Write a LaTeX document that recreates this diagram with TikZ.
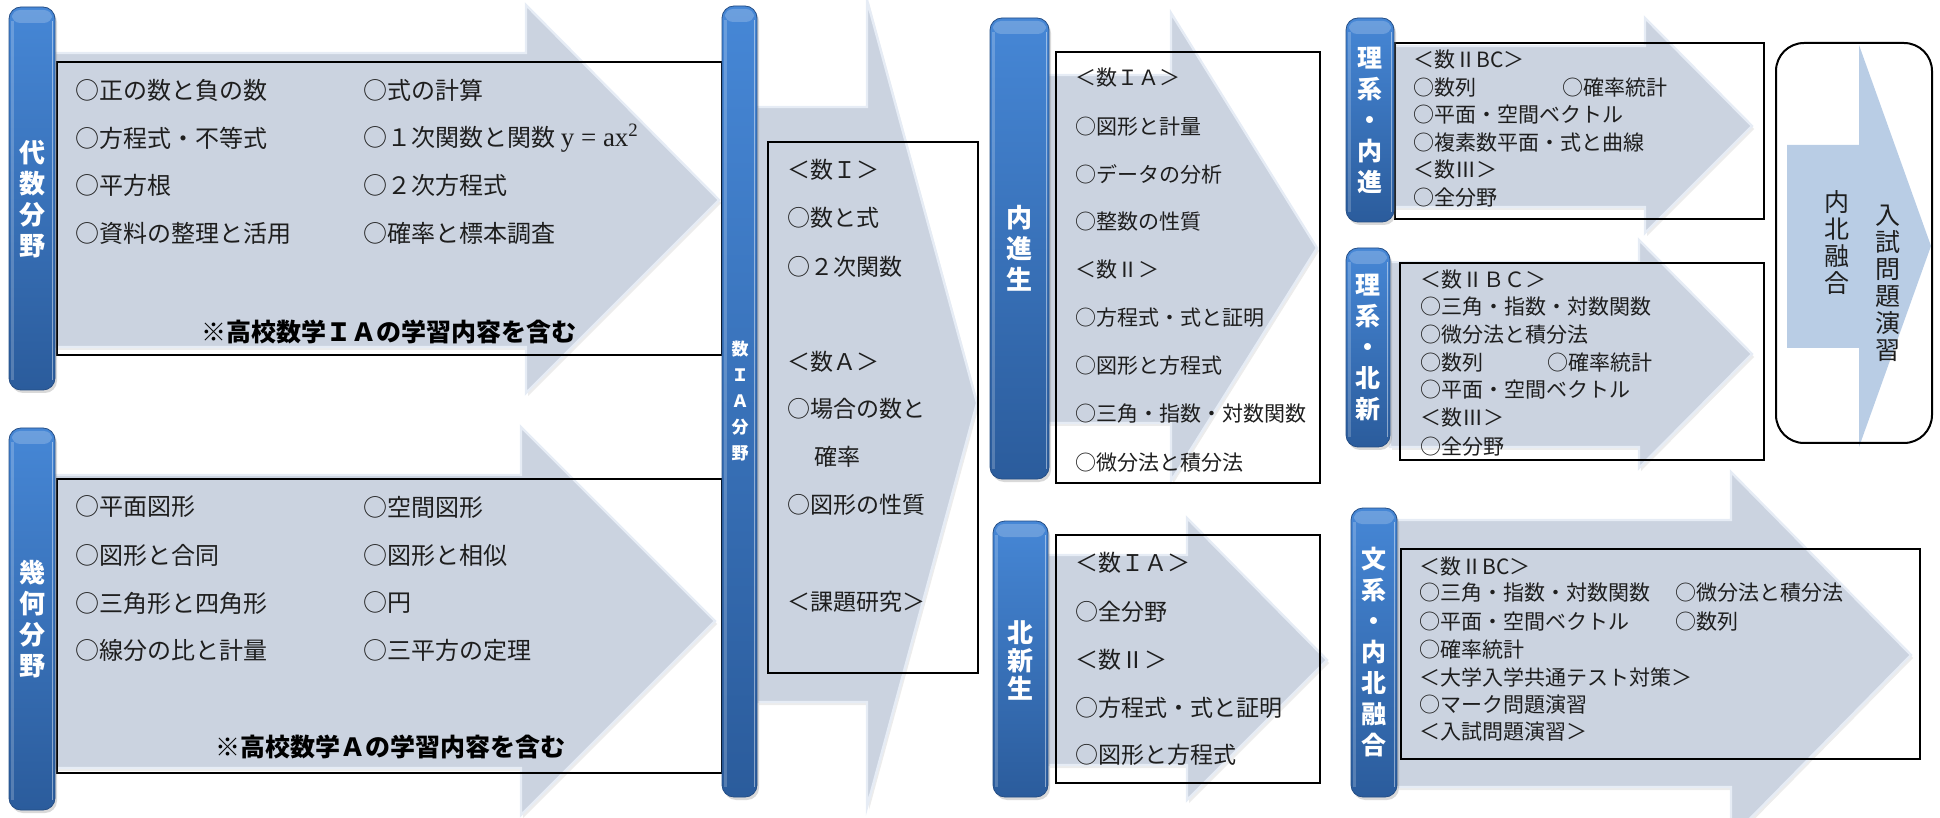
\documentclass[tikz,border=0pt]{standalone}
\usepackage{fontspec}
\setmainfont{Noto Sans CJK JP}
\newfontfamily\latserif{Liberation Serif}
\usetikzlibrary{shadows}
\definecolor{arrowfill}{HTML}{CBD3E0}
\definecolor{arrowedge}{HTML}{E6ECF5}
\definecolor{barTop}{HTML}{4687D6}
\definecolor{barBot}{HTML}{2B5C9C}
\definecolor{bigarrow}{HTML}{B9CDE5}
\definecolor{txt}{HTML}{1E1E1E}
\begin{document}
\begin{tikzpicture}[x=0.5pt,y=-0.5pt,
  flow/.style={fill=arrowfill, draw=arrowedge, line width=1.2pt, line join=miter,
    drop shadow={shadow xshift=1pt, shadow yshift=-1.5pt, opacity=0.15}},
  frame/.style={draw=black, line width=1pt},
  bar/.style={rounded corners=6pt, top color=barTop, bottom color=barBot,
    draw=barBot!85!black, line width=0.4pt,
    drop shadow={shadow xshift=1pt, shadow yshift=-1.5pt, opacity=0.3}},
  barlabel/.style={text=white, font=\fontsize{13}{15.5}\selectfont\bfseries, align=center, inner sep=0},
  itemL/.style={anchor=west, inner sep=0, text=txt, font=\fontsize{12}{14}\selectfont},
  itemM/.style={anchor=west, inner sep=0, text=txt, font=\fontsize{11.5}{14}\selectfont},
  itemS/.style={anchor=west, inner sep=0, text=txt, font=\fontsize{10.5}{12}\selectfont},
  note/.style={inner sep=0, text=black, font=\fontsize{12.5}{14}\selectfont\bfseries},
  vtext/.style={inner sep=0, text=txt, align=center, font=\fontsize{12.5}{13.5}\selectfont},
]
\newcommand\colbar[4]{%
  \path[bar] (#1,#2) rectangle (#3,#4);
  \fill[white,opacity=0.2,rounded corners=4pt] (#1+3,#2+3) rectangle (#3-3,#2+16);
  \draw[white,opacity=0.45,line width=0.8pt] (#3-2.5,#2+14) -- (#3-2.5,#4-10);
  \draw[white,opacity=0.2,line width=1.5pt] (#1+3,#2+14) -- (#1+3,#4-10);
}
\useasboundingbox (0,0) rectangle (1940,818);

% ---------- arrows ----------
\path[flow] (55,53) -- (526,53) -- (526,5) -- (719,200) -- (526,393) -- (526,347) -- (55,347) -- cycle;
\path[flow] (55,475) -- (521,475) -- (521,427) -- (715,621) -- (521,815) -- (521,768) -- (55,768) -- cycle;
\path[flow] (757,107) -- (867,107) -- (867,0) -- (977,403) -- (867,807) -- (867,702) -- (757,702) -- cycle;
\path[flow] (1048,75) -- (1171,75) -- (1171,13) -- (1317,248) -- (1171,481) -- (1171,423) -- (1048,423) -- cycle;
\path[flow] (1048,555) -- (1187,555) -- (1187,518) -- (1327,660) -- (1187,800) -- (1187,765) -- (1048,765) -- cycle;
\path[flow] (1394,46) -- (1645,46) -- (1645,18) -- (1752,126) -- (1645,233) -- (1645,207) -- (1394,207) -- cycle;
\path[flow] (1390,262) -- (1639,262) -- (1639,240) -- (1752,354) -- (1639,468) -- (1639,447) -- (1390,447) -- cycle;
\path[flow] (1397,520) -- (1731,520) -- (1731,472) -- (1911,655) -- (1731,838) -- (1731,787) -- (1397,787) -- cycle;
\fill[bigarrow] (1787,145) -- (1859,145) -- (1859,45) -- (1931,246) -- (1859,447) -- (1859,348) -- (1787,348) -- cycle;

% ---------- frames ----------
\draw[frame] (57,62) rectangle (722,355);
\draw[frame] (57,479) rectangle (722,773);
\draw[frame] (768,142) rectangle (978,673);
\draw[frame] (1056,52) rectangle (1320,483);
\draw[frame] (1056,535) rectangle (1320,783);
\draw[frame] (1395,43) rectangle (1764,219);
\draw[frame] (1400,263) rectangle (1764,460);
\draw[frame] (1401,549) rectangle (1920,759);
\draw[frame, rounded corners=14pt] (1776,43) rectangle (1932,443);

% ---------- bars ----------
\colbar{9}{7}{55}{390}
\colbar{9}{428}{55}{810}
\colbar{722}{6}{757}{797}
\colbar{990}{18}{1049}{479}
\colbar{993}{521}{1048}{797}
\colbar{1346}{18}{1394}{222}
\colbar{1346}{248}{1390}{447}
\colbar{1351}{508}{1397}{797}

% ---------- bar labels ----------
\node[barlabel] (L1) at (32,199) {代\\数\\分\\野};
\node[barlabel] (L2) at (32,619) {幾\\何\\分\\野};
\node[barlabel, font=\fontsize{8.5}{13}\selectfont\bfseries] (L3) at (740,401) {数\\Ｉ\\Ａ\\分\\野};
\node[barlabel] (L4) at (1019,248) {内\\進\\生};
\node[barlabel, font=\fontsize{13}{14}\selectfont\bfseries] (L5) at (1020,660) {北\\新\\生};
\node[barlabel, font=\fontsize{12.5}{15.5}\selectfont\bfseries] (L6) at (1370,120) {理\\系\\・\\内\\進};
\node[barlabel, font=\fontsize{12.5}{15.5}\selectfont\bfseries] (L7) at (1368,348) {理\\系\\・\\北\\新};
\node[barlabel, font=\fontsize{12.5}{15.5}\selectfont\bfseries] (L8) at (1374,652) {文\\系\\・\\内\\北\\融\\合};

% ---------- algebra box ----------
\node[itemL] (a1) at (75,90) {○正の数と負の数};
\node[itemL] (a2) at (75,138) {○方程式・不等式};
\node[itemL] (a3) at (75,185) {○平方根};
\node[itemL] (a4) at (75,233) {○資料の整理と活用};
\node[itemL] (a5) at (363,90) {○式の計算};
\node[itemL] (a6) at (363,138) {○１次関数と関数\ {\latserif\fontsize{13.5}{14}\selectfont y = ax\textsuperscript{2}}};
\node[itemL] (a7) at (363,185) {○２次方程式};
\node[itemL] (a8) at (363,233) {○確率と標本調査};
\node[note] (a9) at (389,332) {※高校数学ＩＡの学習内容を含む};

% ---------- geometry box ----------
\node[itemL] (g1) at (75,507) {○平面図形};
\node[itemL] (g2) at (75,555) {○図形と合同};
\node[itemL] (g3) at (75,603) {○三角形と四角形};
\node[itemL] (g4) at (75,650) {○線分の比と計量};
\node[itemL] (g5) at (363,507) {○空間図形};
\node[itemL] (g6) at (363,555) {○図形と相似};
\node[itemL] (g7) at (363,603) {○円};
\node[itemL] (g8) at (363,650) {○三平方の定理};
\node[note] (g9) at (390,747) {※高校数学Ａの学習内容を含む};

% ---------- middle box ----------
\node[itemM] (m1) at (787,170) {＜数Ｉ＞};
\node[itemM] (m2) at (787,218) {○数と式};
\node[itemM] (m3) at (787,267) {○２次関数};
\node[itemM] (m4) at (787,362) {＜数Ａ＞};
\node[itemM] (m5) at (787,409) {○場合の数と};
\node[itemM] (m6) at (814,457) {確率};
\node[itemM] (m7) at (787,505) {○図形の性質};
\node[itemM] (m8) at (787,602) {＜課題研究＞};

% ---------- naishin box ----------
\node[itemS] (n1) at (1075,78) {＜数ＩＡ＞};
\node[itemS] (n2) at (1075,127) {○図形と計量};
\node[itemS] (n3) at (1075,174) {○データの分析};
\node[itemS] (n4) at (1075,222) {○整数の性質};
\node[itemS] (n5) at (1075,270) {＜数Ⅱ＞};
\node[itemS] (n6) at (1075,318) {○方程式・式と証明};
\node[itemS] (n7) at (1075,366) {○図形と方程式};
\node[itemS] (n8) at (1075,414) {○三角・指数・対数関数};
\node[itemS] (n9) at (1075,463) {○微分法と積分法};

% ---------- hokushin box ----------
\node[itemM] (k1) at (1075,563) {＜数ＩＡ＞};
\node[itemM] (k2) at (1075,612) {○全分野};
\node[itemM] (k3) at (1075,660) {＜数Ⅱ＞};
\node[itemM] (k4) at (1075,708) {○方程式・式と証明};
\node[itemM] (k5) at (1075,755) {○図形と方程式};

% ---------- rikei naishin ----------
\node[itemS] (r1) at (1413,60) {＜数ⅡBC＞};
\node[itemS] (r2) at (1413,88) {○数列};
\node[itemS] (r3) at (1562,88) {○確率統計};
\node[itemS] (r4) at (1413,115) {○平面・空間ベクトル};
\node[itemS] (r5) at (1413,143) {○複素数平面・式と曲線};
\node[itemS] (r6) at (1413,170) {＜数Ⅲ＞};
\node[itemS] (r7) at (1413,198) {○全分野};

% ---------- rikei hokushin ----------
\node[itemS] (s1) at (1420,280) {＜数ⅡＢＣ＞};
\node[itemS] (s2) at (1420,307) {○三角・指数・対数関数};
\node[itemS] (s3) at (1420,335) {○微分法と積分法};
\node[itemS] (s4) at (1420,363) {○数列};
\node[itemS] (s5) at (1547,363) {○確率統計};
\node[itemS] (s6) at (1420,390) {○平面・空間ベクトル};
\node[itemS] (s7) at (1420,418) {＜数Ⅲ＞};
\node[itemS] (s8) at (1420,447) {○全分野};

% ---------- bunkei ----------
\node[itemS] (w1) at (1419,567) {＜数ⅡBC＞};
\node[itemS] (w2) at (1419,593) {○三角・指数・対数関数};
\node[itemS] (w3) at (1675,593) {○微分法と積分法};
\node[itemS] (w4) at (1419,622) {○平面・空間ベクトル};
\node[itemS] (w5) at (1675,622) {○数列};
\node[itemS] (w6) at (1419,650) {○確率統計};
\node[itemS] (w7) at (1419,677) {＜大学入学共通テスト対策＞};
\node[itemS] (w8) at (1419,705) {○マーク問題演習};
\node[itemS] (w9) at (1419,732) {＜入試問題演習＞};

% ---------- final box ----------
\node[vtext] (v1) at (1888,283) {入\\試\\問\\題\\演\\習};
\node[vtext] (v2) at (1837,243) {内\\北\\融\\合};
\end{tikzpicture}
\end{document}
